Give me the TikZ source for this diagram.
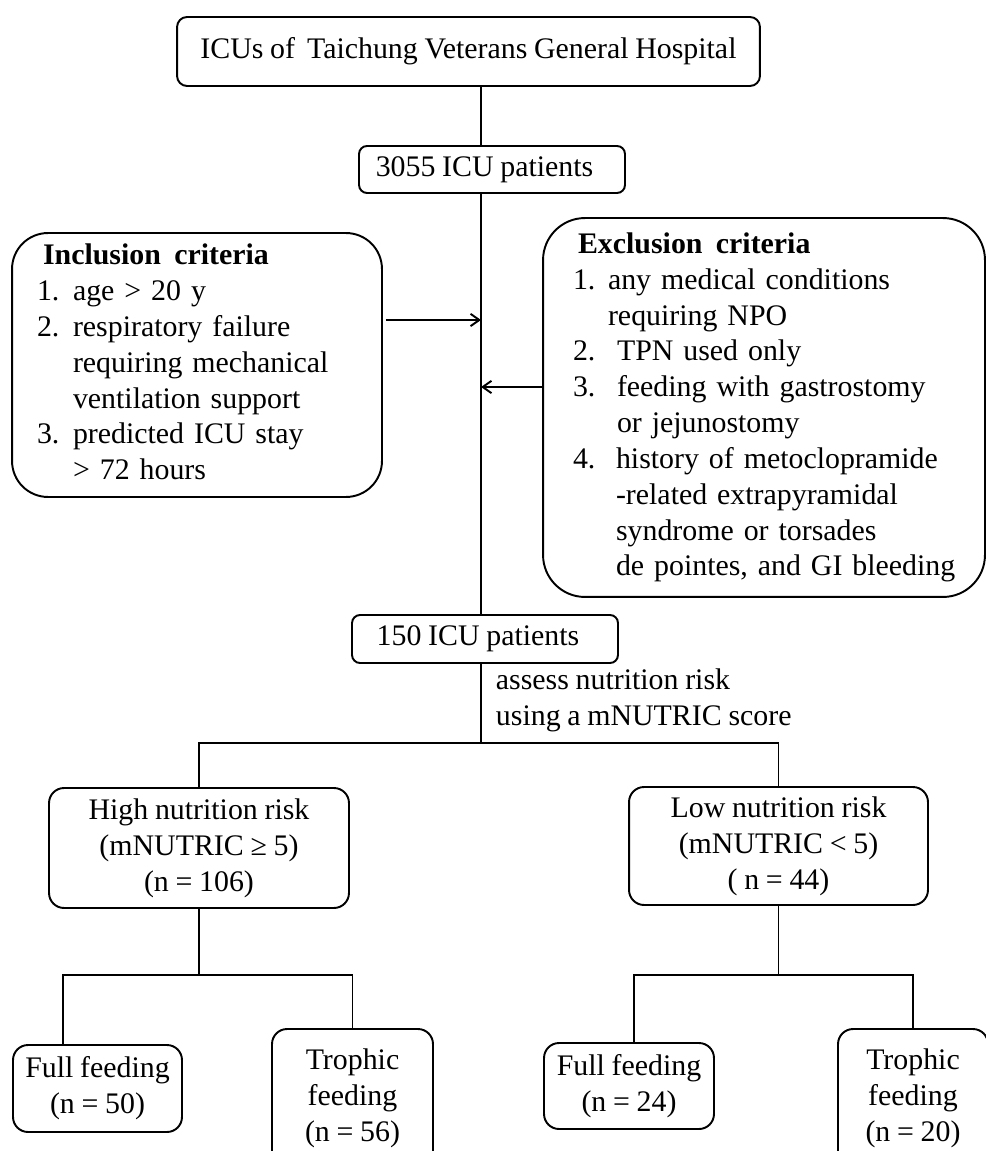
\documentclass[tikz,border=0pt]{standalone}
\usepackage{fontspec}
\setmainfont[WordSpace=0.9]{Liberation Serif}
\usepackage{tikz}
\usetikzlibrary{arrows.meta}

\begin{document}
\begin{tikzpicture}[x=0.02cm, y=-0.02cm, line width=1.1pt,
	txt/.style={font=\fontsize{17pt}{20.4pt}\selectfont},
	stage/.style={txt, draw, rounded corners=0.2cm, align=center, inner sep=0pt},
	criteria/.style={txt, draw, align=left, inner ysep=0pt},
	flow/.style={-{Straight Barb[length=5pt,width=7pt]}}]
					\useasboundingbox (0,0) rectangle (985,1151);
					\node[stage, minimum width=11.66cm, minimum height=1.38cm] (hosp) at (468.5,51.5) {ICUs of\hspace{0.4em}Taichung Veterans General Hospital};
					\node[stage, minimum width=5.32cm, minimum height=0.94cm, rounded corners=0.16cm] (n3055) at (492,169.5) {3055 ICU patients\hspace{0.3cm}};
					\node[criteria, text width=6.4cm, inner xsep=0.5cm, minimum height=5.28cm, rounded corners=0.72cm] (incl) at (197,365) {\noindent\begin{tabular}{@{}p{0.72cm}@{}l@{}}
						\multicolumn{2}{@{}l@{}}{\hspace{0.12cm}\textbf{Inclusion\hspace{0.45em}criteria}}\\
						1. & age > 20 y\\
						2. & respiratory failure\\
						   & requiring mechanical\\
						   & ventilation support\\
						3. & predicted ICU stay\\
						   & > 72 hours
					\end{tabular}};
					\node[criteria, text width=7.64cm, inner xsep=0.6cm, minimum height=7.58cm, rounded corners=0.84cm] (excl) at (764,407.5) {\noindent\begin{tabular}{@{}p{0.7cm}@{}l@{}}
						\multicolumn{2}{@{}l@{}}{\hspace{0.1cm}\textbf{Exclusion\hspace{0.45em}criteria}}\\
						1. & any medical conditions\\
						   & requiring NPO\\
						2. & \hspace{0.18cm}TPN used only\\
						3. & \hspace{0.18cm}feeding with gastrostomy\\
						   & \hspace{0.18cm}or jejunostomy\\
						4. & \hspace{0.16cm}history of metoclopramide\\
						   & \hspace{0.16cm}-related extrapyramidal\\
						   & \hspace{0.16cm}syndrome or torsades\\
						   & \hspace{0.16cm}de pointes, and GI bleeding
					\end{tabular}};
					\node[stage, minimum width=5.32cm, minimum height=0.96cm, rounded corners=0.16cm] (n150) at (485,639) {150 ICU patients\hspace{0.28cm}};
					\node[txt, anchor=west, align=left, inner sep=0pt] (assess) at (495,700) {assess nutrition risk\\using a mNUTRIC score};
					\node[stage, minimum width=6cm, minimum height=2.4cm, rounded corners=0.3cm] (high) at (199,848) {High nutrition risk\\(mNUTRIC ≥ 5)\\(n = 106)};
					\node[stage, minimum width=5.98cm, minimum height=2.36cm, rounded corners=0.3cm] (low) at (778.5,846) {Low nutrition risk\\(mNUTRIC < 5)\\( n = 44)};
					\node[stage, minimum width=3.38cm, minimum height=1.74cm, rounded corners=0.3cm] (ffH) at (97.5,1088.5) {Full feeding\\(n = 50)};
					\node[stage, minimum width=3.22cm, minimum height=2.76cm, rounded corners=0.3cm] (tfH) at (352.5,1098) {Trophic\\feeding\\(n = 56)};
					\node[stage, minimum width=3.4cm, minimum height=1.72cm, rounded corners=0.3cm] (ffL) at (629,1086) {Full feeding\\(n = 24)};
					\node[stage, minimum width=3cm, minimum height=2.76cm, rounded corners=0.3cm] (tfL) at (913,1098) {Trophic\\feeding\\(n = 20)};
					\coordinate (spine) at (481,0);
					\coordinate (split) at (0,743);
					\coordinate (hsplit) at (0,975);
					\coordinate (inArr) at ([shift={(3,-45)}]incl.east);
					\coordinate (exArr) at ([shift={(0,-20.5)}]excl.west);
					\coordinate (ffHtop) at ([xshift=-0.69cm]ffH.north);
					\coordinate (ffLtop) at ([xshift=0.1cm]ffL.north);
					\draw (hosp.south -| spine) -- (n3055.north -| spine);
					\draw (n3055.south -| spine) -- (n150.north -| spine);
					\draw[flow] (inArr) -- (inArr -| spine);
					\draw[flow] (exArr) -- (exArr -| spine);
					\draw (n150.south -| spine) -- (spine |- split);
					\draw (high.north) -- (high.north |- split) -- (low.north |- split) -- (low.north);
					\draw (high.south) -- (high.south |- hsplit);
					\draw (ffHtop) |- (tfH.north |- hsplit) -- (tfH.north);
					\draw (low.south) -- (low.south |- hsplit);
					\draw (ffLtop) |- (tfL.north |- hsplit) -- (tfL.north);
				\end{tikzpicture}
\end{document}
